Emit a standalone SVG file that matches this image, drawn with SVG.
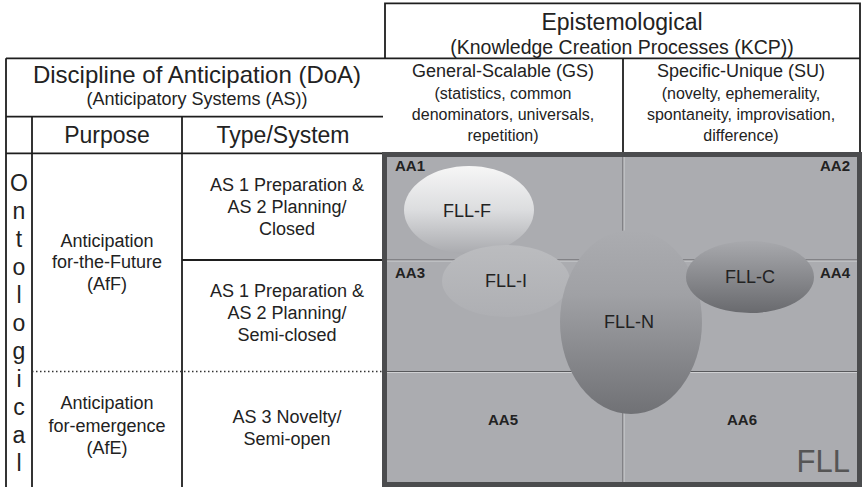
<svg xmlns="http://www.w3.org/2000/svg" width="862" height="487" viewBox="0 0 862 487">
<style>
text{font-family:"Liberation Sans",Arial,sans-serif;fill:#222}
.h1{font-size:23px}
.h1b{font-size:24px}
.h2{font-size:19.5px}
.h3{font-size:18px}
.sm{font-size:16px}
.b{font-size:18px}
.aa{font-size:15px;font-weight:bold}
.tl{stroke:#1e1e1e;stroke-width:1.8;fill:none}
.in{stroke:#58595c;stroke-width:1;fill:none}
.hl{stroke:#d0d1d3;stroke-width:1;fill:none}
.c{text-anchor:middle}
</style>
<defs>
<linearGradient id="gF" x1="0" y1="0" x2="0" y2="1">
<stop offset="0" stop-color="#f6f6f6"/><stop offset="0.5" stop-color="#dcdddf"/><stop offset="1" stop-color="#a9aaae"/>
</linearGradient>
<linearGradient id="gI" x1="0" y1="0" x2="0" y2="1">
<stop offset="0" stop-color="#bbbcbf"/><stop offset="1" stop-color="#aeafb3"/>
</linearGradient>
<linearGradient id="gN" x1="0" y1="0" x2="0" y2="1">
<stop offset="0" stop-color="#abacb0"/><stop offset="0.35" stop-color="#a0a1a5"/><stop offset="1" stop-color="#707175"/>
</linearGradient>
<linearGradient id="gC" x1="0" y1="0" x2="0" y2="1">
<stop offset="0" stop-color="#a8a9ad"/><stop offset="1" stop-color="#696a6e"/>
</linearGradient>
</defs>
<rect width="862" height="487" fill="#fff"/>

<g id="table-lines">
<polyline class="tl" points="385,58.3 385,3.3 860,3.3 860,153"/>
<line class="tl" x1="6" y1="58.3" x2="860" y2="58.3"/>
<line class="tl" x1="623" y1="58.3" x2="623" y2="153"/>
<line class="tl" x1="6" y1="58.3" x2="6" y2="487"/>
<line class="tl" x1="6" y1="116.7" x2="383" y2="116.7"/>
<line class="tl" x1="6" y1="153.3" x2="383" y2="153.3"/>
<line class="tl" x1="32" y1="116.7" x2="32" y2="487"/>
<line class="tl" x1="182" y1="116.7" x2="182" y2="487"/>
<line class="tl" x1="182" y1="260" x2="383" y2="260"/>
<line x1="32" y1="371.5" x2="383" y2="371.5" stroke="#333" stroke-width="1.5" stroke-dasharray="1.5,2.5"/>
</g>

<g id="header-epistemological">
<text class="h1 c" x="622" y="30">Epistemological</text>
<text class="h2 c" x="622" y="54">(Knowledge Creation Processes (KCP))</text>
</g>
<g id="header-gs">
<text class="h3 c" x="503" y="77">General-Scalable (GS)</text>
<text class="sm c" x="503" y="99">(statistics, common</text>
<text class="sm c" x="503" y="120">denominators, universals,</text>
<text class="sm c" x="503" y="141">repetition)</text>
</g>
<g id="header-su">
<text class="h3 c" x="741" y="77">Specific-Unique (SU)</text>
<text class="sm c" x="741" y="99">(novelty, ephemerality,</text>
<text class="sm c" x="741" y="120">spontaneity, improvisation,</text>
<text class="sm c" x="741" y="141">difference)</text>
</g>
<g id="header-doa">
<text class="h1b c" x="197" y="83">Discipline of Anticipation (DoA)</text>
<text class="b c" x="197" y="105">(Anticipatory Systems (AS))</text>
</g>
<g id="header-purpose"><text class="h1 c" x="107" y="143">Purpose</text></g>
<g id="header-type"><text class="h1 c" x="283" y="143">Type/System</text></g>

<g id="ontological">
<text class="h1 c" x="19" y="190.6">O</text>
<text class="h1 c" x="19" y="218.6">n</text>
<text class="h1 c" x="19" y="246.6">t</text>
<text class="h1 c" x="19" y="274.6">o</text>
<text class="h1 c" x="19" y="302.6">l</text>
<text class="h1 c" x="19" y="330.6">o</text>
<text class="h1 c" x="19" y="358.6">g</text>
<text class="h1 c" x="19" y="386.6">i</text>
<text class="h1 c" x="19" y="414.6">c</text>
<text class="h1 c" x="19" y="442.6">a</text>
<text class="h1 c" x="19" y="470.6">l</text>
</g>

<g id="aff">
<text class="b c" x="107" y="246.5">Anticipation</text>
<text class="b c" x="107" y="268">for-the-Future</text>
<text class="b c" x="107" y="290">(AfF)</text>
</g>
<g id="afe">
<text class="b c" x="107" y="409">Anticipation</text>
<text class="b c" x="107" y="432">for-emergence</text>
<text class="b c" x="107" y="454">(AfE)</text>
</g>
<g id="as-closed">
<text class="b c" x="287" y="191">AS 1 Preparation &amp;</text>
<text class="b c" x="287" y="213">AS 2 Planning/</text>
<text class="b c" x="287" y="235">Closed</text>
</g>
<g id="as-semiclosed">
<text class="b c" x="287" y="297">AS 1 Preparation &amp;</text>
<text class="b c" x="287" y="319">AS 2 Planning/</text>
<text class="b c" x="287" y="341">Semi-closed</text>
</g>
<g id="as-semiopen">
<text class="b c" x="287" y="423">AS 3 Novelty/</text>
<text class="b c" x="287" y="445">Semi-open</text>
</g>

<g id="fll-area">
<rect x="384.5" y="154.5" width="475" height="330" fill="#abacb0" stroke="#4b4c4e" stroke-width="5"/>
<line class="in" x1="623" y1="157" x2="623" y2="482"/>
<line class="hl" x1="624" y1="157" x2="624" y2="482"/>
<line class="in" x1="387" y1="260" x2="857" y2="260"/>
<line class="hl" x1="387" y1="261" x2="857" y2="261"/>
<line class="in" x1="387" y1="371.5" x2="857" y2="371.5"/>
<line class="hl" x1="387" y1="372.5" x2="857" y2="372.5"/>
<text class="aa" x="395" y="171">AA1</text>
<text class="aa" x="850" y="171" text-anchor="end">AA2</text>
<text class="aa" x="395" y="278">AA3</text>
<text class="aa" x="850" y="278" text-anchor="end">AA4</text>
<text class="aa c" x="503" y="424.5">AA5</text>
<text class="aa c" x="742" y="424.5">AA6</text>
<text x="850" y="471.5" text-anchor="end" style="font-size:31px;fill:#555">FLL</text>
</g>

<g id="fll-f">
<ellipse cx="469" cy="210" rx="65" ry="44" fill="url(#gF)"/>
<text class="b c" x="467" y="216.5">FLL-F</text>
</g>
<g id="fll-i">
<ellipse cx="506" cy="281" rx="64" ry="36" fill="url(#gI)"/>
<text class="b c" x="506" y="287">FLL-I</text>
</g>
<g id="fll-n">
<ellipse cx="631" cy="322" rx="71" ry="92" fill="url(#gN)"/>
<text class="b c" x="629" y="327.5">FLL-N</text>
</g>
<g id="fll-c">
<ellipse cx="750" cy="277" rx="64" ry="36" fill="url(#gC)"/>
<text class="b c" x="750" y="282.5">FLL-C</text>
</g>
<g id="connectors"></g>
</svg>
